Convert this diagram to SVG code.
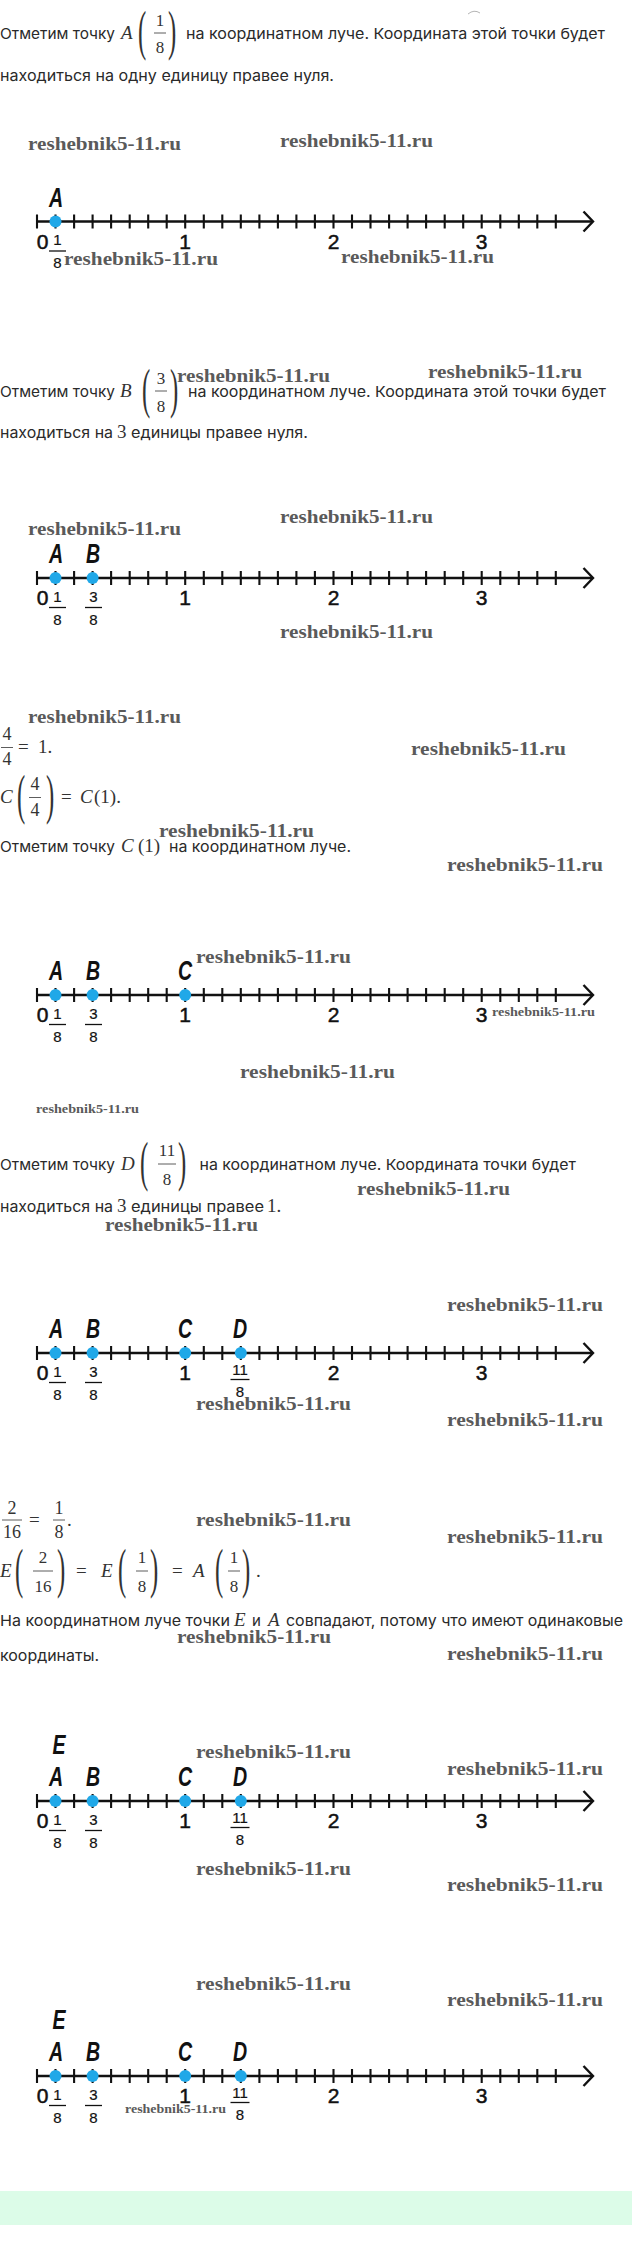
<svg xmlns="http://www.w3.org/2000/svg" xmlns:xlink="http://www.w3.org/1999/xlink" width="632" height="2259" viewBox="0 0 632 2259">
<style>
.t{font-family:Inter,'Noto Sans',sans-serif;font-size:15px;fill:#2a2a2a}
.mi{font-family:'Liberation Serif',serif;font-style:italic;font-size:19px;fill:#333}
.mn{font-family:'Liberation Serif',serif;font-size:19px;fill:#333}
.mf{font-family:'Liberation Serif',serif;font-size:17px;fill:#333;text-anchor:middle}
.mF{font-family:'Liberation Serif',serif;font-size:18px;fill:#333;text-anchor:middle}
.bp{font-family:'Liberation Serif',serif;font-size:55px;fill:#333}
.fb{stroke:#333;stroke-width:0.8}
.wm{font-family:'Liberation Serif',serif;font-weight:bold;font-size:19px;fill:#5a5a5a}
.wms{font-family:'Liberation Serif',serif;font-weight:bold;font-size:12.5px;fill:#5a5a5a}
.ax{stroke:#111;stroke-width:2.4;fill:none}
.tk{stroke:#111;stroke-width:2.1;fill:none}
.num{font-family:'Liberation Sans',Arial,sans-serif;font-size:21px;fill:#111;stroke:#111;stroke-width:0.5;text-anchor:middle}
.fr{font-family:'Liberation Sans',Arial,sans-serif;font-size:15px;fill:#111;stroke:#111;stroke-width:0.2;text-anchor:middle}
.frb{stroke:#111;stroke-width:1.3}
.lbl{font-family:'Liberation Sans',Arial,sans-serif;font-style:italic;font-weight:bold;font-size:28px;fill:#111;text-anchor:middle}
.dot{fill:#20a8e8}
</style>
<defs>
<g id="axis">
<path class="ax" d="M36,0H592.5"/>
<path class="tk" d="M37,-7V7M55.5,-7V7M74.1,-7V7M92.6,-7V7M111.1,-7V7M129.7,-7V7M148.2,-7V7M166.7,-7V7M185.2,-7V7M203.8,-7V7M222.3,-7V7M240.8,-7V7M259.4,-7V7M277.9,-7V7M296.4,-7V7M314.9,-7V7M333.5,-7V7M352,-7V7M370.5,-7V7M389.1,-7V7M407.6,-7V7M426.1,-7V7M444.7,-7V7M463.2,-7V7M481.7,-7V7M500.3,-7V7M518.8,-7V7M537.3,-7V7M555.8,-7V7"/>
<path class="ax" d="M583.5,-10L593,0L583.5,10"/>
<text class="num" x="42.5" y="27">0</text>
<text class="num" x="185.2" y="27">1</text>
<text class="num" x="333.5" y="27">2</text>
<text class="num" x="481.7" y="27">3</text>
</g>
<g id="f18"><text class="fr" x="57.5" y="23.5">1</text><line class="frb" x1="49" y1="29.5" x2="66" y2="29.5"/><text class="fr" x="57.5" y="46.5">8</text></g>
<g id="f38"><text class="fr" x="93.5" y="23.5">3</text><line class="frb" x1="85" y1="29.5" x2="102" y2="29.5"/><text class="fr" x="93.5" y="46.5">8</text></g>
<g id="f118"><text class="fr" x="240" y="21.5">11</text><line class="frb" x1="230.5" y1="26.5" x2="249.5" y2="26.5"/><text class="fr" x="240" y="44">8</text></g>
</defs>

<path d="M468,14 Q474,9 480,13" fill="none" stroke="#b5b5b5" stroke-width="1"/>

<g id="text1">
<text class="t" x="0" y="39" textLength="115" lengthAdjust="spacingAndGlyphs">Отметим точку</text>
<text class="mi" x="121" y="39">A</text>
<text class="bp" transform="translate(138,48.5) scale(0.45,1)">(</text>
<text class="mf" x="160" y="25.5">1</text>
<line class="fb" x1="154" y1="33" x2="166" y2="33"/>
<text class="mf" x="160" y="53">8</text>
<text class="bp" transform="translate(168,48.5) scale(0.45,1)">)</text>
<text class="t" x="186" y="39" textLength="419" lengthAdjust="spacingAndGlyphs">на координатном луче. Координата этой точки будет</text>
<text class="t" x="0" y="81" textLength="334" lengthAdjust="spacingAndGlyphs">находиться на одну единицу правее нуля.</text>
</g>

<g id="line1" transform="translate(0,221.5)">
<use href="#axis"/>
<circle class="dot" cx="55.5" cy="0" r="6"/>
<text class="lbl" transform="translate(56,-15) scale(0.7,1)">A</text>
<use href="#f18"/>
</g>

<g id="text2">
<text class="t" x="0" y="397" textLength="115" lengthAdjust="spacingAndGlyphs">Отметим точку</text>
<text class="mi" x="120" y="397">B</text>
<text class="bp" transform="translate(142,406.5) scale(0.45,1)">(</text>
<text class="mf" x="161" y="383.5">3</text>
<line class="fb" x1="155" y1="391" x2="167" y2="391"/>
<text class="mf" x="161" y="411.5">8</text>
<text class="bp" transform="translate(170,406.5) scale(0.45,1)">)</text>
<text class="t" x="188" y="397" textLength="418" lengthAdjust="spacingAndGlyphs">на координатном луче. Координата этой точки будет</text>
<text class="t" x="0" y="438" textLength="113" lengthAdjust="spacingAndGlyphs">находиться на</text>
<text class="mn" x="117" y="438">3</text>
<text class="t" x="131" y="438" textLength="177" lengthAdjust="spacingAndGlyphs">единицы правее нуля.</text>
</g>

<g id="line2" transform="translate(0,578)">
<use href="#axis"/>
<circle class="dot" cx="55.5" cy="0" r="6"/>
<circle class="dot" cx="92.6" cy="0" r="6"/>
<text class="lbl" transform="translate(56,-15) scale(0.7,1)">A</text>
<text class="lbl" transform="translate(93,-15) scale(0.7,1)">B</text>
<use href="#f18"/>
<use href="#f38"/>
</g>

<g id="text3">
<text class="mF" x="7" y="740">4</text>
<line class="fb" x1="1" y1="747.5" x2="13" y2="747.5"/>
<text class="mF" x="7" y="765">4</text>
<text class="mn" x="18" y="753">=</text>
<text class="mn" x="38" y="753">1.</text>
<text class="mi" x="0" y="803">C</text>
<text class="bp" transform="translate(17,812.5) scale(0.45,1)">(</text>
<text class="mF" x="35" y="790">4</text>
<line class="fb" x1="29" y1="797.5" x2="41" y2="797.5"/>
<text class="mF" x="35" y="816">4</text>
<text class="bp" transform="translate(46,812.5) scale(0.45,1)">)</text>
<text class="mn" x="61" y="803">=</text>
<text class="mi" x="80" y="803">C</text>
<text class="mn" x="94" y="803">(1).</text>
<text class="t" x="0" y="852" textLength="115" lengthAdjust="spacingAndGlyphs">Отметим точку</text>
<text class="mi" x="121" y="852">C</text>
<text class="mn" x="138" y="852">(1)</text>
<text class="t" x="169" y="852" textLength="182" lengthAdjust="spacingAndGlyphs">на координатном луче.</text>
</g>

<g id="line3" transform="translate(0,995)">
<use href="#axis"/>
<circle class="dot" cx="55.5" cy="0" r="6"/>
<circle class="dot" cx="92.6" cy="0" r="6"/>
<circle class="dot" cx="185.2" cy="0" r="6"/>
<text class="lbl" transform="translate(56,-15) scale(0.7,1)">A</text>
<text class="lbl" transform="translate(93,-15) scale(0.7,1)">B</text>
<text class="lbl" transform="translate(185,-15) scale(0.7,1)">C</text>
<use href="#f18"/>
<use href="#f38"/>
</g>

<g id="text4">
<text class="t" x="0" y="1170" textLength="115" lengthAdjust="spacingAndGlyphs">Отметим точку</text>
<text class="mi" x="121" y="1170">D</text>
<text class="bp" transform="translate(140,1179.5) scale(0.45,1)">(</text>
<text class="mf" x="167" y="1156">11</text>
<line class="fb" x1="158" y1="1164" x2="176" y2="1164"/>
<text class="mf" x="167" y="1184.5">8</text>
<text class="bp" transform="translate(178,1179.5) scale(0.45,1)">)</text>
<text class="t" x="199.5" y="1170" textLength="376.5" lengthAdjust="spacingAndGlyphs">на координатном луче. Координата точки будет</text>
<text class="t" x="0" y="1212" textLength="113" lengthAdjust="spacingAndGlyphs">находиться на</text>
<text class="mn" x="117" y="1212">3</text>
<text class="t" x="131" y="1212" textLength="133" lengthAdjust="spacingAndGlyphs">единицы правее</text>
<text class="mn" x="267" y="1212">1.</text>
</g>

<g id="line4" transform="translate(0,1353)">
<use href="#axis"/>
<circle class="dot" cx="55.5" cy="0" r="6"/>
<circle class="dot" cx="92.6" cy="0" r="6"/>
<circle class="dot" cx="185.2" cy="0" r="6"/>
<circle class="dot" cx="240.8" cy="0" r="6"/>
<text class="lbl" transform="translate(56,-15) scale(0.7,1)">A</text>
<text class="lbl" transform="translate(93,-15) scale(0.7,1)">B</text>
<text class="lbl" transform="translate(185,-15) scale(0.7,1)">C</text>
<text class="lbl" transform="translate(240,-15) scale(0.7,1)">D</text>
<use href="#f18"/>
<use href="#f38"/>
<use href="#f118"/>
</g>

<g id="text5">
<text class="mF" x="12" y="1514">2</text>
<line class="fb" x1="2" y1="1520" x2="22" y2="1520"/>
<text class="mF" x="12" y="1538">16</text>
<text class="mn" x="29" y="1525.5">=</text>
<text class="mF" x="59" y="1514">1</text>
<line class="fb" x1="53" y1="1520" x2="65" y2="1520"/>
<text class="mF" x="59" y="1538">8</text>
<text class="mn" x="67" y="1525.5">.</text>
<text class="mi" x="0" y="1577">E</text>
<text class="bp" transform="translate(15,1586.5) scale(0.45,1)">(</text>
<text class="mf" x="43" y="1563">2</text>
<line class="fb" x1="33" y1="1571" x2="53" y2="1571"/>
<text class="mf" x="43" y="1591.5">16</text>
<text class="bp" transform="translate(57,1586.5) scale(0.45,1)">)</text>
<text class="mn" x="76" y="1577">=</text>
<text class="mi" x="101" y="1577">E</text>
<text class="bp" transform="translate(118,1586.5) scale(0.45,1)">(</text>
<text class="mf" x="142" y="1563">1</text>
<line class="fb" x1="136" y1="1571" x2="148" y2="1571"/>
<text class="mf" x="142" y="1591.5">8</text>
<text class="bp" transform="translate(150,1586.5) scale(0.45,1)">)</text>
<text class="mn" x="172" y="1577">=</text>
<text class="mi" x="193" y="1577">A</text>
<text class="bp" transform="translate(215,1586.5) scale(0.45,1)">(</text>
<text class="mf" x="234" y="1563">1</text>
<line class="fb" x1="228" y1="1571" x2="240" y2="1571"/>
<text class="mf" x="234" y="1591.5">8</text>
<text class="bp" transform="translate(242,1586.5) scale(0.45,1)">)</text>
<text class="mn" x="256" y="1577">.</text>
<text class="t" x="0" y="1626" textLength="230" lengthAdjust="spacingAndGlyphs">На координатном луче точки</text>
<text class="mi" x="234" y="1626">E</text>
<text class="t" x="252" y="1626">и</text>
<text class="mi" x="268" y="1626">A</text>
<text class="t" x="286" y="1626" textLength="337" lengthAdjust="spacingAndGlyphs">совпадают, потому что имеют одинаковые</text>
<text class="t" x="0" y="1661" textLength="99" lengthAdjust="spacingAndGlyphs">координаты.</text>
</g>

<g id="line5" transform="translate(0,1801)">
<use href="#axis"/>
<circle class="dot" cx="55.5" cy="0" r="6"/>
<circle class="dot" cx="92.6" cy="0" r="6"/>
<circle class="dot" cx="185.2" cy="0" r="6"/>
<circle class="dot" cx="240.8" cy="0" r="6"/>
<text class="lbl" transform="translate(59,-47) scale(0.7,1)">E</text>
<text class="lbl" transform="translate(56,-15) scale(0.7,1)">A</text>
<text class="lbl" transform="translate(93,-15) scale(0.7,1)">B</text>
<text class="lbl" transform="translate(185,-15) scale(0.7,1)">C</text>
<text class="lbl" transform="translate(240,-15) scale(0.7,1)">D</text>
<use href="#f18"/>
<use href="#f38"/>
<use href="#f118"/>
</g>

<g id="line6" transform="translate(0,2076)">
<use href="#axis"/>
<circle class="dot" cx="55.5" cy="0" r="6"/>
<circle class="dot" cx="92.6" cy="0" r="6"/>
<circle class="dot" cx="185.2" cy="0" r="6"/>
<circle class="dot" cx="240.8" cy="0" r="6"/>
<text class="lbl" transform="translate(59,-47) scale(0.7,1)">E</text>
<text class="lbl" transform="translate(56,-15) scale(0.7,1)">A</text>
<text class="lbl" transform="translate(93,-15) scale(0.7,1)">B</text>
<text class="lbl" transform="translate(185,-15) scale(0.7,1)">C</text>
<text class="lbl" transform="translate(240,-15) scale(0.7,1)">D</text>
<use href="#f18"/>
<use href="#f38"/>
<use href="#f118"/>
</g>

<g id="watermarks">
<text class="wm" x="28" y="150" textLength="153" lengthAdjust="spacingAndGlyphs">reshebnik5-11.ru</text>
<text class="wm" x="280" y="147" textLength="153" lengthAdjust="spacingAndGlyphs">reshebnik5-11.ru</text>
<text class="wm" x="64" y="265" textLength="154" lengthAdjust="spacingAndGlyphs">reshebnik5-11.ru</text>
<text class="wm" x="341" y="263" textLength="153" lengthAdjust="spacingAndGlyphs">reshebnik5-11.ru</text>
<text class="wm" x="177" y="382" textLength="153" lengthAdjust="spacingAndGlyphs">reshebnik5-11.ru</text>
<text class="wm" x="428" y="378" textLength="154" lengthAdjust="spacingAndGlyphs">reshebnik5-11.ru</text>
<text class="wm" x="280" y="523" textLength="153" lengthAdjust="spacingAndGlyphs">reshebnik5-11.ru</text>
<text class="wm" x="28" y="535" textLength="153" lengthAdjust="spacingAndGlyphs">reshebnik5-11.ru</text>
<text class="wm" x="280" y="638" textLength="153" lengthAdjust="spacingAndGlyphs">reshebnik5-11.ru</text>
<text class="wm" x="28" y="723" textLength="153" lengthAdjust="spacingAndGlyphs">reshebnik5-11.ru</text>
<text class="wm" x="411" y="755" textLength="155" lengthAdjust="spacingAndGlyphs">reshebnik5-11.ru</text>
<text class="wm" x="159" y="837" textLength="155" lengthAdjust="spacingAndGlyphs">reshebnik5-11.ru</text>
<text class="wm" x="447" y="871" textLength="156" lengthAdjust="spacingAndGlyphs">reshebnik5-11.ru</text>
<text class="wm" x="196" y="963" textLength="155" lengthAdjust="spacingAndGlyphs">reshebnik5-11.ru</text>
<text class="wms" x="492" y="1016" textLength="103" lengthAdjust="spacingAndGlyphs">reshebnik5-11.ru</text>
<text class="wm" x="240" y="1078" textLength="155" lengthAdjust="spacingAndGlyphs">reshebnik5-11.ru</text>
<text class="wms" x="36" y="1113" textLength="103" lengthAdjust="spacingAndGlyphs">reshebnik5-11.ru</text>
<text class="wm" x="357" y="1195" textLength="153" lengthAdjust="spacingAndGlyphs">reshebnik5-11.ru</text>
<text class="wm" x="105" y="1231" textLength="153" lengthAdjust="spacingAndGlyphs">reshebnik5-11.ru</text>
<text class="wm" x="447" y="1311" textLength="156" lengthAdjust="spacingAndGlyphs">reshebnik5-11.ru</text>
<text class="wm" x="196" y="1410" textLength="155" lengthAdjust="spacingAndGlyphs">reshebnik5-11.ru</text>
<text class="wm" x="447" y="1426" textLength="156" lengthAdjust="spacingAndGlyphs">reshebnik5-11.ru</text>
<text class="wm" x="196" y="1526" textLength="155" lengthAdjust="spacingAndGlyphs">reshebnik5-11.ru</text>
<text class="wm" x="447" y="1543" textLength="156" lengthAdjust="spacingAndGlyphs">reshebnik5-11.ru</text>
<text class="wm" x="177" y="1643" textLength="154" lengthAdjust="spacingAndGlyphs">reshebnik5-11.ru</text>
<text class="wm" x="447" y="1660" textLength="156" lengthAdjust="spacingAndGlyphs">reshebnik5-11.ru</text>
<text class="wm" x="196" y="1758" textLength="155" lengthAdjust="spacingAndGlyphs">reshebnik5-11.ru</text>
<text class="wm" x="447" y="1775" textLength="156" lengthAdjust="spacingAndGlyphs">reshebnik5-11.ru</text>
<text class="wm" x="196" y="1875" textLength="155" lengthAdjust="spacingAndGlyphs">reshebnik5-11.ru</text>
<text class="wm" x="447" y="1891" textLength="156" lengthAdjust="spacingAndGlyphs">reshebnik5-11.ru</text>
<text class="wm" x="196" y="1990" textLength="155" lengthAdjust="spacingAndGlyphs">reshebnik5-11.ru</text>
<text class="wm" x="447" y="2006" textLength="156" lengthAdjust="spacingAndGlyphs">reshebnik5-11.ru</text>
<text class="wms" x="125" y="2113" textLength="101" lengthAdjust="spacingAndGlyphs">reshebnik5-11.ru</text>
</g>

<rect id="footer-band" x="0" y="2191" width="632" height="34" fill="#dcfce8"/>
</svg>
